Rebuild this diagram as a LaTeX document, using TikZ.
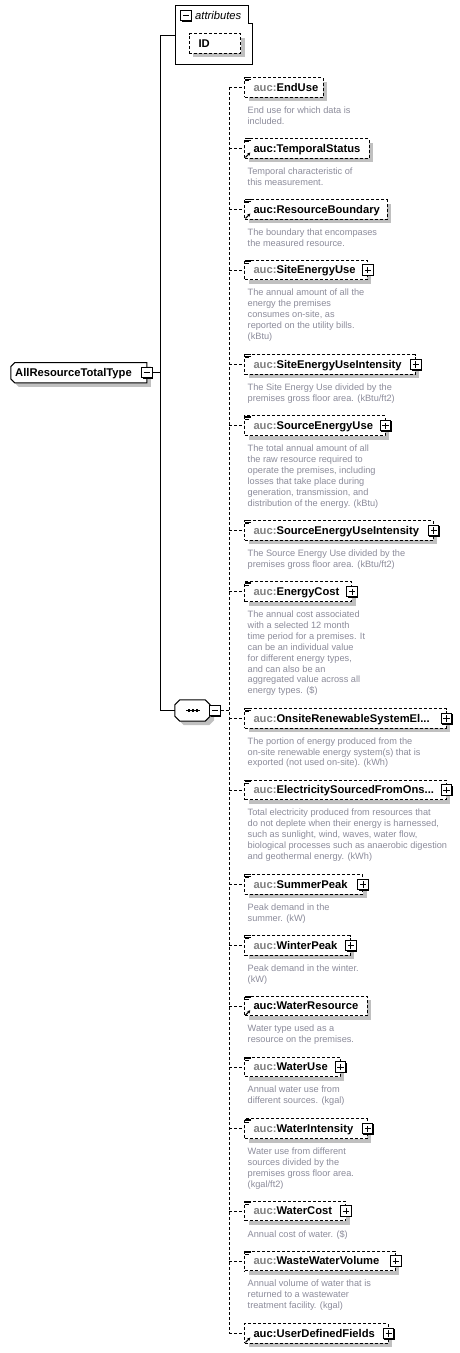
\documentclass[tikz,border=0pt]{standalone}
\usepackage{fontspec}
\setmainfont{Liberation Sans}
\usetikzlibrary{arrows.meta, shadows}

\definecolor{shadowgray}{RGB}{192,192,192}
\definecolor{descgray}{RGB}{140,140,155}
\definecolor{prefixgray}{RGB}{128,128,128}

\newcommand{\auc}{\textcolor{prefixgray}{auc:}}

\tikzset{
  treeline/.style={line width=1pt},
  busline/.style={line width=1pt, dash pattern=on 3pt off 2pt},
  boxshadow/.style={drop shadow={shadow xshift=4pt, shadow yshift=-4pt, fill=shadowgray, opacity=1}},
  elembox/.style={draw, busline, fill=white, inner sep=0, minimum height=19.6pt, anchor=west, boxshadow},
  elemlabel/.style={anchor=base west, inner sep=0, font=\fontsize{11.2}{13}\selectfont\bfseries},
  desctext/.style={anchor=north west, inner sep=0, align=left, text=descgray, font=\fontsize{9.2}{10.9}\selectfont},
  minibox/.style={draw, fill=white, line width=1pt, minimum size=10.5pt, inner sep=0,
    drop shadow={shadow xshift=1pt, shadow yshift=-1pt, fill=black, opacity=1}},
  plusbox/.style={minibox, path picture={
    \draw[line width=1pt] ([xshift=-3.2pt]path picture bounding box.center) -- ([xshift=3.2pt]path picture bounding box.center)
      ([yshift=-3.2pt]path picture bounding box.center) -- ([yshift=3.2pt]path picture bounding box.center);}},
  minusbox/.style={minibox, path picture={
    \draw[line width=1pt] ([xshift=-3.2pt]path picture bounding box.center) -- ([xshift=3.2pt]path picture bounding box.center);}},
  iconline/.style={line width=0.8pt},
  refarrow/.style={line width=1.1pt, -{Stealth[length=3pt, width=3.2pt]}}
}

% element box, label, description and connector to the bus
\newcommand{\xsdelem}[5]{%
  \node[elembox, minimum width={#3pt-244.3pt}] (#1) at (244.3,#2) {};
  \node[elemlabel] (#1-lbl) at (253.3,#2+3.8) {#4};
  \node[desctext] (#1-desc) at (247.5,#2+19) {#5};
  \draw[busline] (bus |- #1.west) -- (#1.west);
}
\newcommand{\docicon}[1]{%
  \draw[iconline] ([shift={(1pt,-0.6pt)}]#1.north west) -- ++(5.5pt,0)
    ([shift={(1pt,-2.1pt)}]#1.north west) -- ++(5.5pt,0)
    ([shift={(1pt,-3.6pt)}]#1.north west) -- ++(4pt,0);}
\newcommand{\reficon}[1]{%
  \draw[refarrow] ([shift={(1.2pt,1.2pt)}]#1.south west) -- ++(4.8pt,4.8pt);}
\newcommand{\plusicon}[1]{\node[plusbox] (#1-plus) at (#1.east) {};}

\begin{document}
\begin{tikzpicture}[x=1pt, y=-1pt]
  \fill[white] (0,0) rectangle (460,1353);
  \useasboundingbox (0,0) rectangle (460,1353);

  % attributes
  \node[inner sep=0, minimum width=76.6pt, minimum height=58.6pt] (attrs) at (214,35) {};
  \draw[treeline] (attrs.south west) -- (attrs.north west) -- ([xshift=-4pt]attrs.north east)
    -- ++(0,18.3) -- ++(4,0) -- (attrs.south east) -- cycle;
  \node[minusbox, drop shadow={opacity=0}] (attrs-minus) at (186,15.5) {};
  \node[anchor=base west, inner sep=0, font=\fontsize{11.2}{13}\selectfont\itshape] (attrs-title) at (195,19) {attributes};
  \node[elembox, anchor=center, minimum width=51.4pt] (id) at (215,43.3) {};
  \node[elemlabel] (id-lbl) at (198.3,47.3) {ID};

  % root type
  \node[inner sep=0, minimum width=135.7pt, minimum height=20pt] (root) at (78.85,372.7) {};
  \draw[treeline, fill=white, boxshadow] ([xshift=4pt]root.north west) -- (root.north east) -- (root.south east)
    -- ([xshift=4pt]root.south west) -- ([yshift=4pt]root.south west) -- ([yshift=-4pt]root.north west) -- cycle;
  \node[elemlabel] (root-lbl) at (15,376.1) {AllResourceTotalType};
  \node[minusbox] (root-minus) at (root.east) {};

  % sequence
  \node[inner sep=0, minimum width=35pt, minimum height=21pt] (seq) at (192.5,710.5) {};
  \draw[treeline, fill=white, boxshadow] ([xshift=5pt]seq.north west) -- ([xshift=-5pt]seq.north east)
    -- ([yshift=-5pt]seq.north east) -- ([yshift=5pt]seq.south east) -- ([xshift=-5pt]seq.south east)
    -- ([xshift=5pt]seq.south west) -- ([yshift=5pt]seq.south west) -- ([yshift=-5pt]seq.north west) -- cycle;
  \draw[line width=1pt] ([xshift=-6.5pt]seq.center) -- ([xshift=7.5pt]seq.center);
  \foreach \dx in {-3.5,0.5,4.5}
    \fill ([xshift=\dx pt]seq.center) +(-1.3pt,-1.3pt) rectangle +(1.3pt,1.3pt);
  \node[minusbox] (seq-minus) at (215,710.5) {};

  % trunk
  \coordinate (trunk) at (160.7,372.7);
  \draw[treeline] (root-minus.east) -- (trunk);
  \draw[treeline] (attrs.west) -- (trunk |- attrs.west) -- (trunk |- seq.west) -- (seq.west);

  % bus of the sequence
  \coordinate (bus) at (229.3,710.5);
  \draw[busline] (seq-minus.east) -- (bus);

  % elements
  \xsdelem{enduse}{87.3}{322.7}{\auc EndUse}{End use for which data is\\included.}
  \docicon{enduse}
  \xsdelem{tempstatus}{148.3}{368.7}{auc:TemporalStatus}{Temporal characteristic of\\this measurement.}
  \docicon{tempstatus} \reficon{tempstatus}
  \xsdelem{resbound}{209.3}{386.7}{auc:ResourceBoundary}{The boundary that encompases\\the measured resource.}
  \docicon{resbound} \reficon{resbound}
  \xsdelem{siteuse}{270}{366.8}{\auc SiteEnergyUse}{The annual amount of all the\\energy the premises\\consumes on-site, as\\reported on the utility bills.\\(kBtu)}
  \docicon{siteuse} \plusicon{siteuse}
  \xsdelem{siteint}{364.3}{414.8}{\auc SiteEnergyUseIntensity}{The Site Energy Use divided by the\\premises gross floor area. (kBtu/ft2)}
  \docicon{siteint} \plusicon{siteint}
  \xsdelem{sourceuse}{425.7}{384.5}{\auc SourceEnergyUse}{The total annual amount of all\\the raw resource required to\\operate the premises, including\\losses that take place during\\generation, transmission, and\\distribution of the energy. (kBtu)}
  \docicon{sourceuse} \plusicon{sourceuse}
  \xsdelem{sourceint}{530.3}{432.7}{\auc SourceEnergyUseIntensity}{The Source Energy Use divided by the\\premises gross floor area. (kBtu/ft2)}
  \docicon{sourceint} \plusicon{sourceint}
  \xsdelem{cost}{591.7}{351.2}{\auc EnergyCost}{The annual cost associated\\with a selected 12 month\\time period for a premises. It\\can be an individual value\\for different energy types,\\and can also be an\\aggregated value across all\\energy types. (\$)}
  \docicon{cost} \plusicon{cost}
  \xsdelem{onsite}{718.3}{445.5}{\auc OnsiteRenewableSystemEl...}{The portion of energy produced from the\\on-site renewable energy system(s) that is\\exported (not used on-site). (kWh)}
  \docicon{onsite} \plusicon{onsite}
  \xsdelem{elecons}{790}{445.5}{\auc ElectricitySourcedFromOns...}{Total electricity produced from resources that\\do not deplete when their energy is harnessed,\\such as sunlight, wind, waves, water flow,\\biological processes such as anaerobic digestion\\and geothermal energy. (kWh)}
  \docicon{elecons} \plusicon{elecons}
  \xsdelem{summer}{884.3}{362.2}{\auc SummerPeak}{Peak demand in the\\summer. (kW)}
  \docicon{summer} \plusicon{summer}
  \xsdelem{winter}{945.3}{349.8}{\auc WinterPeak}{Peak demand in the winter.\\(kW)}
  \docicon{winter} \plusicon{winter}
  \xsdelem{waterres}{1006}{366.7}{auc:WaterResource}{Water type used as a\\resource on the premises.}
  \docicon{waterres} \reficon{waterres}
  \xsdelem{wateruse}{1067}{339.5}{\auc WaterUse}{Annual water use from\\different sources. (kgal)}
  \docicon{wateruse} \plusicon{wateruse}
  \xsdelem{waterint}{1128.7}{366.7}{\auc WaterIntensity}{Water use from different\\sources divided by the\\premises gross floor area.\\(kgal/ft2)}
  \docicon{waterint} \plusicon{waterint}
  \xsdelem{watercost}{1211}{345}{\auc WaterCost}{Annual cost of water. (\$)}
  \docicon{watercost} \plusicon{watercost}
  \xsdelem{wastewater}{1261}{394.8}{\auc WasteWaterVolume}{Annual volume of water that is\\returned to a wastewater\\treatment facility. (kgal)}
  \docicon{wastewater} \plusicon{wastewater}
  \xsdelem{udf}{1333.3}{387.7}{auc:UserDefinedFields}{}
  \reficon{udf} \plusicon{udf}

  \draw[busline] (bus |- enduse.west) -- (bus |- udf.west);
\end{tikzpicture}
\end{document}
